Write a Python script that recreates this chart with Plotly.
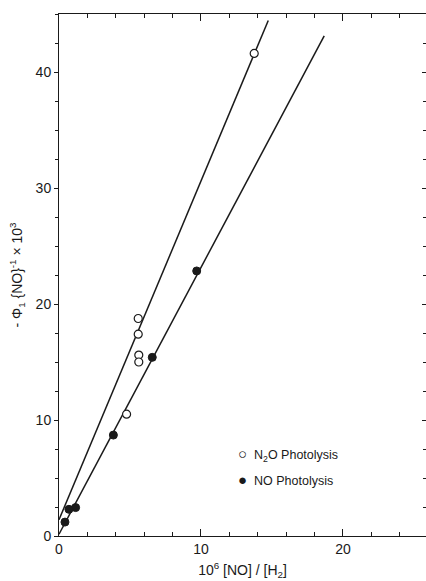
import plotly.graph_objects as go

# Open circles: N2O photolysis
n2o_x = [13.75, 5.58, 5.58, 5.62, 5.62, 4.76]
n2o_y = [41.6, 18.75, 17.4, 15.6, 15.0, 10.5]
# Filled circles: NO photolysis
no_x = [9.7, 6.57, 3.83, 1.17, 0.70, 0.42]
no_y = [22.85, 15.4, 8.7, 2.45, 2.3, 1.2]

# Fitted straight lines (intercept, slope, x extent)
n2o_fit = dict(intercept=1.4, slope=2.92, xmax=14.74)
no_fit = dict(intercept=0.15, slope=2.30, xmax=18.68)

x_ticks = [0, 10, 20]
y_ticks = [0, 10, 20, 30, 40]

FONT = "Liberation Sans"
INK = "#1a1a1a"

fig = go.Figure()

for fit in (n2o_fit, no_fit):
    xs = [0, fit["xmax"]]
    ys = [fit["intercept"] + fit["slope"] * v for v in xs]
    fig.add_trace(go.Scatter(x=xs, y=ys, mode="lines",
                             line=dict(color=INK, width=1.5),
                             showlegend=False, hoverinfo="skip"))

fig.add_trace(go.Scatter(x=n2o_x, y=n2o_y, mode="markers", name="N2O Photolysis",
                         marker=dict(symbol="circle", size=8, color="white",
                                     line=dict(color=INK, width=1.2)),
                         showlegend=False))
fig.add_trace(go.Scatter(x=no_x, y=no_y, mode="markers", name="NO Photolysis",
                         marker=dict(symbol="circle", size=8, color=INK,
                                     line=dict(color=INK, width=1)),
                         showlegend=False))

# right-side ticks (no spine visible)
fig.add_trace(go.Scatter(x=[None], y=[None], yaxis="y2", showlegend=False))

fig.update_layout(
    width=426, height=581,
    margin=dict(l=59, r=0, t=14, b=45),
    paper_bgcolor="white", plot_bgcolor="white",
    font=dict(family=FONT, color=INK, size=14),
    xaxis=dict(range=[0, 25.85], tickvals=x_ticks, ticktext=[str(v) for v in x_ticks],
               ticks="inside", ticklen=7, tickwidth=1, tickcolor=INK,
               showline=True, linecolor=INK, linewidth=1, mirror="ticks",
               showgrid=False, zeroline=False,
               minor=dict(dtick=2, ticks="inside", ticklen=4, tickcolor=INK, showgrid=False),
               tickfont=dict(size=14, color=INK),
               title=dict(text="10<sup>6</sup> [NO] / [H<sub>2</sub>]",
                          font=dict(size=14, color=INK), standoff=9)),
    yaxis=dict(range=[0, 45], tickvals=y_ticks, ticktext=[str(v) for v in y_ticks],
               ticks="outside", ticklen=4, tickwidth=1, tickcolor=INK,
               showline=True, linecolor=INK, linewidth=1,
               showgrid=False, zeroline=False,
               minor=dict(dtick=2.5, ticks="outside", ticklen=3, tickcolor=INK, showgrid=False),
               tickfont=dict(size=14, color=INK),
               title=dict(text="- Φ<sub>1</sub> {NO}<sup>-1</sup> × 10<sup>3</sup>",
                          font=dict(size=14, color=INK), standoff=9)),
    yaxis2=dict(range=[0, 45], overlaying="y", side="right", showline=False,
                tickvals=y_ticks, showticklabels=False, ticks="inside", ticklen=4,
                tickcolor=INK, showgrid=False, zeroline=False,
                minor=dict(dtick=2.5, ticks="inside", ticklen=3, tickcolor=INK, showgrid=False)),
    annotations=[
        dict(x=12.45, y=7.0, xref="x", yref="y", xanchor="left", yanchor="middle",
             text="<span style='font-size:15px'>○</span>  N<sub>2</sub>O Photolysis", showarrow=False,
             font=dict(size=12.5, family=FONT, color=INK)),
        dict(x=12.45, y=4.85, xref="x", yref="y", xanchor="left", yanchor="middle",
             text="<span style='font-size:15px'>●</span>  NO Photolysis", showarrow=False,
             font=dict(size=12.5, family=FONT, color=INK)),
    ],
)

fig.write_html("out.html", config={"displayModeBar": False},
               post_script="document.body.style.margin='0';document.body.style.overflow='hidden';")
